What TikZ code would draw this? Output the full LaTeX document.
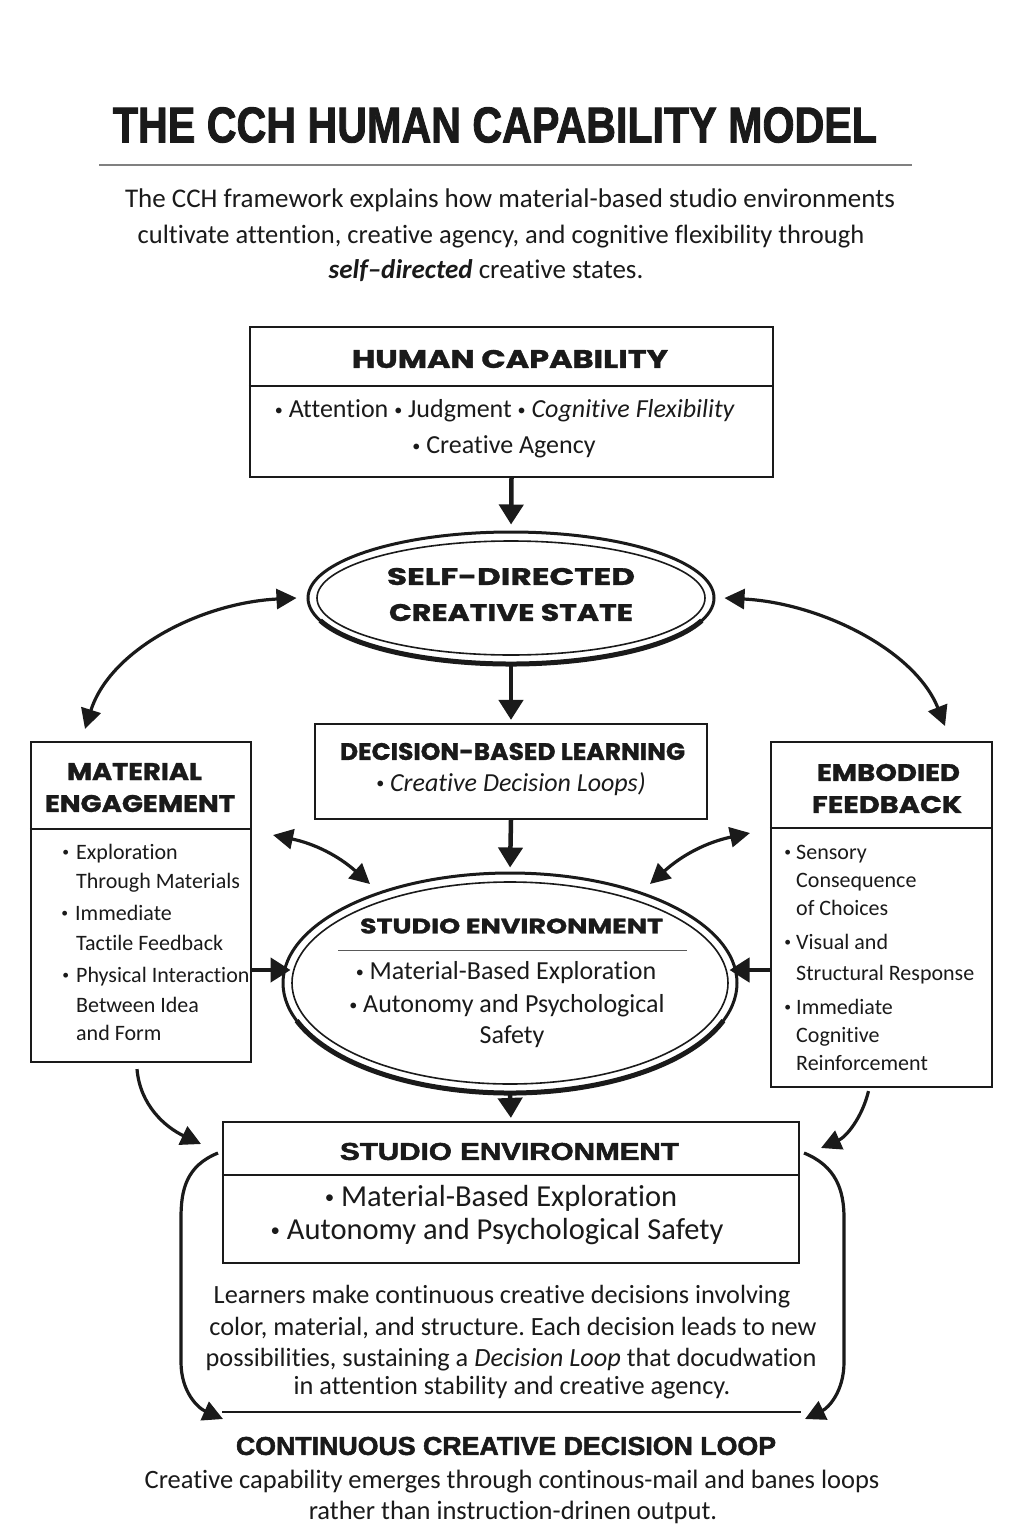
\documentclass[tikz,border=0pt]{standalone}
\usepackage{fontspec}
\setmainfont{Carlito}[Ligatures=NoCommon]
\newfontfamily\headfont{Poppins}[BoldFeatures={FakeBold=1.2}]
\newfontfamily\gfont{Liberation Sans}[BoldFeatures={FakeBold=2}]
\usetikzlibrary{arrows.meta,shapes.geometric,calc}
\newcommand{\hdr}[3]{\resizebox{#1pt}{#2pt}{\headfont\bfseries #3}}
\newcommand{\gdr}[3]{\resizebox{#1pt}{#2pt}{\gfont\bfseries #3}}
\newcommand{\sbt}{\raisebox{0.1em}{\scalebox{0.62}{•}}}
\newcommand{\bul}{\llap{\sbt\hspace{7pt}}}
\newcommand{\bulr}{\llap{\sbt\hspace{5pt}}}
\definecolor{ink}{HTML}{1A1A1A}
\frenchspacing
\begin{document}
\begin{tikzpicture}[x=1pt,y=-1pt,color=ink,
  boxst/.style={draw,line width=2.2pt,inner sep=0pt},
  ellst/.style={draw,ellipse,line width=3pt,inner sep=0pt},
  arr/.style={line width=4.5pt,-{Triangle[length=20pt,width=24pt]}},
  carr/.style={line width=3.2pt,-{Triangle[length=20pt,width=20pt]}},
  dcarr/.style={line width=3.2pt,{Triangle[length=20pt,width=20pt]}-{Triangle[length=20pt,width=20pt]}},
  tx/.style={inner sep=0pt,text=ink},
  side/.style={inner sep=0pt,anchor=base west,text=ink,font=\fontsize{22}{22}\selectfont},
]
\useasboundingbox[fill=white] (0,0) rectangle (1024,1536);

% title
\node[tx] (title) at (495,125) {\gdr{764}{35}{THE CCH HUMAN CAPABILITY MODEL}};
\draw[gray,line width=1.3pt] (99,165) -- (912,165);
\node[tx] (sub1) at (510,200) {\fontsize{27}{27}\selectfont The CCH framework explains how material-based studio environments};
\node[tx] (sub2) at (501,237) {\fontsize{26.5}{26.5}\selectfont cultivate attention, creative agency, and cognitive flexibility through};
\node[tx] (sub3) at (486,271) {\fontsize{27}{27}\selectfont \textbf{\textit{self–directed}} creative states.};

% human capability
\node[boxst,minimum width=523pt,minimum height=150pt] (hc) at (511.5,402) {};
\draw[line width=1.2pt] (hc.west |- 0,386) -- (hc.east |- 0,386);
\node[tx] (hct) at (510,359) {\hdr{316}{18}{HUMAN CAPABILITY}};
\node[tx] (hc1) at (505,411) {\fontsize{26}{26}\selectfont \sbt\ Attention \sbt\ Judgment \sbt\ \textit{Cognitive Flexibility}};
\node[tx] (hc2) at (504,447) {\fontsize{26}{26}\selectfont \sbt\ Creative Agency};

% self-directed
\node[ellst,minimum width=406pt,minimum height=132pt] (sd) at (511,598) {};
\draw[line width=1.6pt] (sd.center) ellipse [x radius=194,y radius=57];
\draw[line width=5pt] (sd.center) ++({203*cos(20)},{66*sin(20)}) arc[start angle=20,end angle=160,x radius=203,y radius=66];
\node[tx] (sd1) at (511,576.5) {\hdr{248}{17}{SELF-DIRECTED}};
\node[tx] (sd2) at (511,612.5) {\hdr{244}{17}{CREATIVE STATE}};

% decision-based learning
\node[boxst,minimum width=392pt,minimum height=95pt] (dbl) at (511,771.5) {};
\node[tx] (dblt) at (512.5,751.5) {\hdr{345}{17}{DECISION-BASED LEARNING}};
\node[tx] (dbl1) at (511,784) {\fontsize{26}{26}\selectfont \sbt\ \textit{Creative Decision Loops)}};

% material engagement
\node[boxst,minimum width=220pt,minimum height=320pt] (me) at (141,902) {};
\draw[line width=1.2pt] (me.west |- 0,829) -- (me.east |- 0,829);
\node[tx] (met1) at (134.5,771.5) {\hdr{135}{17}{MATERIAL}};
\node[tx] (met2) at (140,803.5) {\hdr{190}{17}{ENGAGEMENT}};
\node[side] (me1) at (76,859) {\bul Exploration};
\node[side] (me2) at (76,888) {Through Materials};
\node[side] (me3) at (75,920) {\bul Immediate};
\node[side] (me4) at (76,950) {Tactile Feedback};
\node[side] (me5) at (76,982) {\bul Physical Interaction};
\node[side] (me6) at (76,1012) {Between Idea};
\node[side] (me7) at (76,1040) {and Form};

% embodied feedback
\node[boxst,minimum width=221pt,minimum height=345pt] (ef) at (881.5,914.5) {};
\draw[line width=1.2pt] (ef.west |- 0,828) -- (ef.east |- 0,828);
\node[tx] (eft1) at (888.5,772.5) {\hdr{143}{17}{EMBODIED}};
\node[tx] (eft2) at (887,804.5) {\hdr{150}{17}{FEEDBACK}};
\node[side] (ef1) at (796,859) {\bulr Sensory};
\node[side] (ef2) at (796,887) {Consequence};
\node[side] (ef3) at (796,915) {of Choices};
\node[side] (ef4) at (796,949) {\bulr Visual and};
\node[side] (ef5) at (796,980) {Structural Response};
\node[side] (ef6) at (796,1014) {\bulr Immediate};
\node[side] (ef7) at (796,1042) {Cognitive};
\node[side] (ef8) at (796,1070) {Reinforcement};

% studio environment ellipse
\node[ellst,minimum width=454pt,minimum height=220pt] (se) at (510,983) {};
\draw[line width=1.6pt] (se.center) ellipse [x radius=218,y radius=101];
\draw[line width=5pt] (se.center) ++({227*cos(20)},{110*sin(20)}) arc[start angle=20,end angle=160,x radius=227,y radius=110];
\node[tx] (set) at (511.5,926) {\hdr{303}{15}{STUDIO ENVIRONMENT}};
\draw[line width=1pt,gray!70!black] (338,950) -- (687,950);
\node[tx] (se1) at (506,973) {\fontsize{26}{26}\selectfont \sbt\ Material-Based Exploration};
\node[tx] (se2) at (507,1006) {\fontsize{26}{26}\selectfont \sbt\ Autonomy and Psychological};
\node[tx] (se3) at (512,1037) {\fontsize{26}{26}\selectfont Safety};

% bottom box
\node[boxst,minimum width=576pt,minimum height=141pt] (bb) at (511,1192.5) {};
\draw[line width=1.2pt] (bb.west |- 0,1175) -- (bb.east |- 0,1175);
\node[tx] (bbt) at (509.5,1151.5) {\gdr{339}{17}{STUDIO ENVIRONMENT}};
\node[tx] (bb1) at (501,1198) {\fontsize{30.5}{30.5}\selectfont \sbt\ Material-Based Exploration};
\node[tx] (bb2) at (497,1232) {\fontsize{30.5}{30.5}\selectfont \sbt\ Autonomy and Psychological Safety};

% paragraph
\node[tx] (p1) at (502,1297) {\fontsize{26.3}{26.3}\selectfont Learners make continuous creative decisions involving};
\node[tx] (p2) at (513,1328) {\fontsize{26.3}{26.3}\selectfont color, material, and structure. Each decision leads to new};
\node[tx] (p3) at (511,1360) {\fontsize{26.3}{26.3}\selectfont possibilities, sustaining a \textit{Decision Loop} that docudwation};
\node[tx] (p4) at (512,1388) {\fontsize{26.3}{26.3}\selectfont in attention stability and creative agency.};

% loop
\coordinate (l1) at (218,1153);
\coordinate (l2) at (223,1419);
\coordinate (r1) at (804,1153);
\coordinate (r2) at (805,1419);
\coordinate (h1) at (222,1412);
\coordinate (h2) at (801,1412);
\draw[carr] (l1) .. controls (186,1166) and (181,1190) .. (181,1218) -- (181,1362) .. controls (181,1392) and (198,1408) .. (l2);
\draw[carr] (r1) .. controls (836,1166) and (844,1190) .. (844,1218) -- (844,1362) .. controls (844,1392) and (828,1408) .. (r2);
\draw[line width=2.6pt] (h1) -- (h2);
\node[tx] (lt) at (506,1446) {\gdr{540}{18}{CONTINUOUS CREATIVE DECISION LOOP}};
\node[tx] (lb1) at (512,1482) {\fontsize{26.5}{26.5}\selectfont Creative capability emerges through continous-mail and banes loops};
\node[tx] (lb2) at (513,1512) {\fontsize{26.5}{26.5}\selectfont rather than instruction-drinen output.};

% straight connectors
\draw[arr,shorten >=6pt] (hc.south) -- (sd.north);
\draw[arr,shorten >=3pt] (sd.south) -- (dbl.north);
\draw[arr,shorten >=4pt] (dbl.south) -- (se.north);
\draw[arr,shorten >=3pt] (se.south) -- (bb.north);
\draw[arr,shorten >=-9pt] (me.east |- 0,970) -- (se.west |- 0,970);
\draw[arr,shorten >=-9pt] (ef.west |- 0,970) -- (se.east |- 0,970);

% curved connectors
\coordinate (sdl) at ($(sd.west)+(-10,0)$);
\coordinate (sdr) at ($(sd.east)+(9,0)$);
\coordinate (mtop) at (85,729);
\coordinate (etop) at (945,726);
\draw[dcarr] (mtop) .. controls (110,650) and (200,603) .. (sdl);
\draw[dcarr] (sdr) .. controls (820,603) and (915,650) .. (etop);
\coordinate (dl1) at (273,835);
\coordinate (dl2) at (370,884);
\coordinate (dr1) at (750,833);
\coordinate (dr2) at (650,884);
\draw[dcarr] (dl1) to[bend left=15] (dl2);
\draw[dcarr] (dr1) to[bend right=15] (dr2);
\coordinate (mb) at ($(me.south)+(-4,6)$);
\coordinate (bbl) at (201,1144);
\coordinate (eb) at ($(ef.south)+(-13,3)$);
\coordinate (bbr) at (821,1148);
\draw[carr] (mb) .. controls (140,1105) and (165,1127) .. (bbl);
\draw[carr] (eb) .. controls (862,1118) and (846,1137) .. (bbr);
\end{tikzpicture}
\end{document}
